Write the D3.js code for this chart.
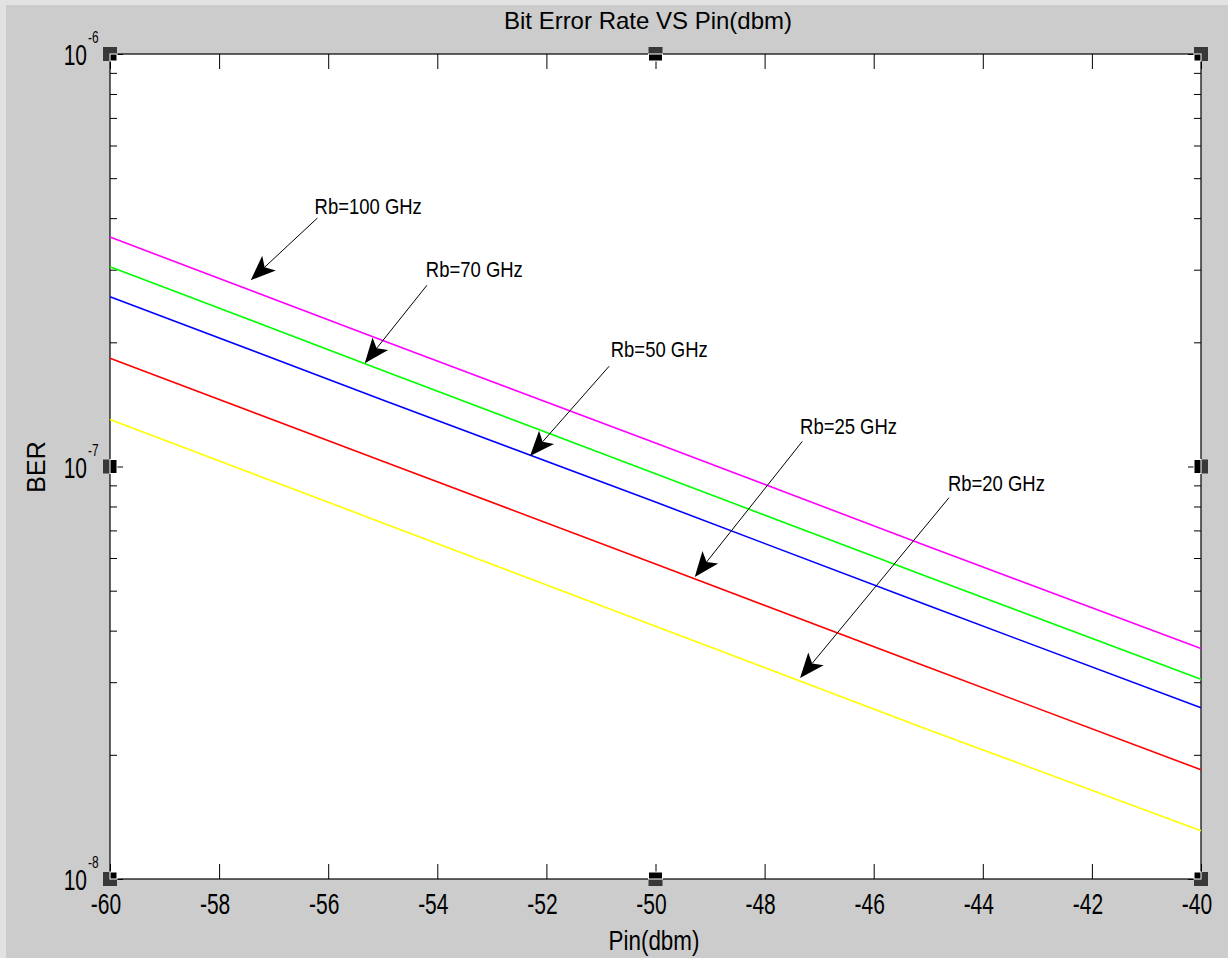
<!DOCTYPE html>
<html>
<head>
<meta charset="utf-8">
<script src="https://cdn.jsdelivr.net/npm/d3@7"></script>
<style>
body { margin: 0; padding: 0; background: #cccccc; }
svg { display: block; }
text { font-family: "Liberation Sans", Arial, sans-serif; fill: #000; }
.tick line { stroke: #000; stroke-width: 1px; }
.frame { fill: #fff; stroke: #000; stroke-width: 1.2px; }
.series { fill: none; stroke-width: 1.6px; }
.arrow { stroke: #000; stroke-width: 1px; }
</style>
</head>
<body>
<svg id="chart" width="1228" height="958"></svg>
<script>
// values
var pin = [-60, -55, -50, -45, -40];
var ber100 = [3.60e-7, 2.02e-7, 1.14e-7, 6.40e-8, 3.62e-8];
var ber70  = [3.05e-7, 1.71e-7, 9.60e-8, 5.40e-8, 3.05e-8];
var ber50  = [2.58e-7, 1.45e-7, 8.20e-8, 4.60e-8, 2.60e-8];
var ber25  = [1.83e-7, 1.03e-7, 5.80e-8, 3.26e-8, 1.84e-8];
var ber20  = [1.30e-7, 7.30e-8, 4.10e-8, 2.30e-8, 1.31e-8];
var seriesColors = ["#ff00ff", "#00ff00", "#0000ff", "#ff0000", "#ffff00"];
var xTicks = [-60, -58, -56, -54, -52, -50, -48, -46, -44, -42, -40];
var yMajor = [1e-8, 1e-7, 1e-6];
var yExp = [-8, -7, -6];

// annotations: label position and arrow (start -> tip), in data units
var notes = [
    { text: "Rb=100 GHz", tx: -56.25, ty: 4.10e-7, x1: -56.2, y1: 4.00e-7, x2: -57.42, y2: 2.83e-7 },
    { text: "Rb=70 GHz",  tx: -54.21, ty: 2.88e-7, x1: -54.19, y1: 2.75e-7, x2: -55.33, y2: 1.78e-7 },
    { text: "Rb=50 GHz",  tx: -50.82, ty: 1.84e-7, x1: -50.85, y1: 1.75e-7, x2: -52.30, y2: 1.06e-7 },
    { text: "Rb=25 GHz",  tx: -47.35, ty: 1.20e-7, x1: -47.31, y1: 1.15e-7, x2: -49.28, y2: 5.40e-8 },
    { text: "Rb=20 GHz",  tx: -44.64, ty: 8.73e-8, x1: -44.62, y1: 8.40e-8, x2: -47.35, y2: 3.07e-8 }
];

function draw() {
    var svg = d3.select("#chart");
    var mLeft = 110, mRight = 1201, mTop = 54, mBottom = 879;

    // lighter window edge on the left and top
    svg.append("rect").attr("x", 0).attr("y", 0).attr("width", 1228).attr("height", 5).attr("fill", "#e2e2e2");
    svg.append("rect").attr("x", 0).attr("y", 0).attr("width", 6).attr("height", 958).attr("fill", "#e2e2e2");

    var x = d3.scaleLinear().domain([-60, -40]).range([mLeft, mRight]);
    var y = d3.scaleLog().domain([1e-8, 1e-6]).range([mBottom, mTop]);

    svg.append("rect").attr("class", "frame")
        .attr("x", mLeft).attr("y", mTop).attr("width", mRight - mLeft).attr("height", mBottom - mTop);

    // ticks, all pointing inwards
    function noDomain(g) { g.select(".domain").remove(); }
    svg.append("g").attr("transform", "translate(0," + mBottom + ")")
        .call(d3.axisBottom(x).tickValues(xTicks).tickSizeInner(-15).tickSizeOuter(0).tickFormat(""))
        .call(noDomain);
    svg.append("g").attr("transform", "translate(0," + mTop + ")")
        .call(d3.axisTop(x).tickValues(xTicks).tickSizeInner(-15).tickSizeOuter(0).tickFormat(""))
        .call(noDomain);

    var yMinor = y.ticks().filter(v => yMajor.indexOf(v) < 0);
    [[d3.axisLeft, mLeft], [d3.axisRight, mRight]].forEach(function (a) {
        svg.append("g").attr("transform", "translate(" + a[1] + ",0)")
            .call(a[0](y).tickValues(yMinor).tickSizeInner(-7).tickSizeOuter(0).tickFormat(""))
            .call(noDomain);
        svg.append("g").attr("transform", "translate(" + a[1] + ",0)")
            .call(a[0](y).tickValues(yMajor).tickSizeInner(-13).tickSizeOuter(0).tickFormat(""))
            .call(noDomain);
    });

    // tick labels (narrow, tall glyphs)
    svg.append("g").selectAll("text").data(xTicks).enter().append("text")
        .attr("transform", d => "translate(" + (x(d) - 4) + ",914) scale(0.7,1)")
        .attr("text-anchor", "middle")
        .style("font-size", "30px")
        .text(d => d);

    var yl = svg.append("g").selectAll("g").data(yMajor).enter().append("g");
    yl.append("text")
        .attr("transform", d => "translate(87," + (y(d) + 11) + ") scale(0.7,1)")
        .attr("text-anchor", "end")
        .style("font-size", "30px")
        .text("10");
    yl.append("text")
        .attr("transform", d => "translate(88," + (y(d) - 11) + ") scale(0.7,1)")
        .style("font-size", "17px")
        .text((d, i) => yExp[i]);

    // axis labels and title
    svg.append("text")
        .attr("transform", "translate(654,950) scale(0.8,1)")
        .attr("text-anchor", "middle").style("font-size", "28px")
        .text("Pin(dbm)");
    svg.append("text")
        .attr("transform", "translate(45,467) rotate(-90)")
        .attr("text-anchor", "middle").style("font-size", "25px")
        .text("BER");
    svg.append("text")
        .attr("transform", "translate(648,29)")
        .attr("text-anchor", "middle").style("font-size", "24px")
        .text("Bit Error Rate VS Pin(dbm)");

    // series
    var allSeries = [ber100, ber70, ber50, ber25, ber20];
    var line = d3.line().x((d, i) => x(pin[i])).y(d => y(d));
    svg.append("g").selectAll("path").data(allSeries).enter().append("path")
        .attr("class", "series")
        .attr("stroke", (d, i) => seriesColors[i])
        .attr("d", line);

    // annotation arrows
    var headLen = 25, headW = 20, notch = 6;
    var ng = svg.append("g");
    notes.forEach(function (n) {
        var sx = x(n.x1), sy = y(n.y1), ex = x(n.x2), ey = y(n.y2);
        var len = Math.hypot(ex - sx, ey - sy);
        var ux = (ex - sx) / len, uy = (ey - sy) / len;
        var px = -uy, py = ux;
        var bx = ex - ux * headLen, by = ey - uy * headLen;
        var nx = ex - ux * (headLen - notch), ny = ey - uy * (headLen - notch);
        ng.append("line").attr("class", "arrow")
            .attr("x1", sx).attr("y1", sy).attr("x2", nx).attr("y2", ny);
        ng.append("path").attr("fill", "#000")
            .attr("d", "M" + ex + "," + ey +
                "L" + (bx + px * headW / 2) + "," + (by + py * headW / 2) +
                "L" + nx + "," + ny +
                "L" + (bx - px * headW / 2) + "," + (by - py * headW / 2) + "Z");
        ng.append("text")
            .attr("transform", "translate(" + x(n.tx) + "," + y(n.ty) + ") scale(0.84,1)")
            .style("font-size", "22px")
            .text(n.text);
    });

    // selection handles around the axes
    var hx = [-60, -50, -40], hy = [1e-8, 1e-7, 1e-6];
    var handles = [];
    hx.forEach(function (a, i) {
        hy.forEach(function (b, j) {
            if (i == 1 && j == 1) return;
            handles.push({ px: x(a), py: y(b), dx: 1 - i, dy: j - 1 });
        });
    });
    var hg = svg.append("g");
    handles.forEach(function (h) {
        hg.append("rect").attr("x", h.px - 7).attr("y", h.py - 7)
            .attr("width", 14).attr("height", 14).attr("fill", "#383838");
        var ix = h.dx > 0 ? h.px : h.px - 7;
        var iy = h.dy > 0 ? h.py : h.py - 7;
        var iw = h.dx == 0 ? 14 : 7, ih = h.dy == 0 ? 14 : 7;
        hg.append("rect").attr("x", ix).attr("y", iy).attr("width", iw).attr("height", ih)
            .attr("fill", "#000").attr("stroke", "#fff").attr("stroke-width", 1);
    });
}
draw();
</script>
</body>
</html>
